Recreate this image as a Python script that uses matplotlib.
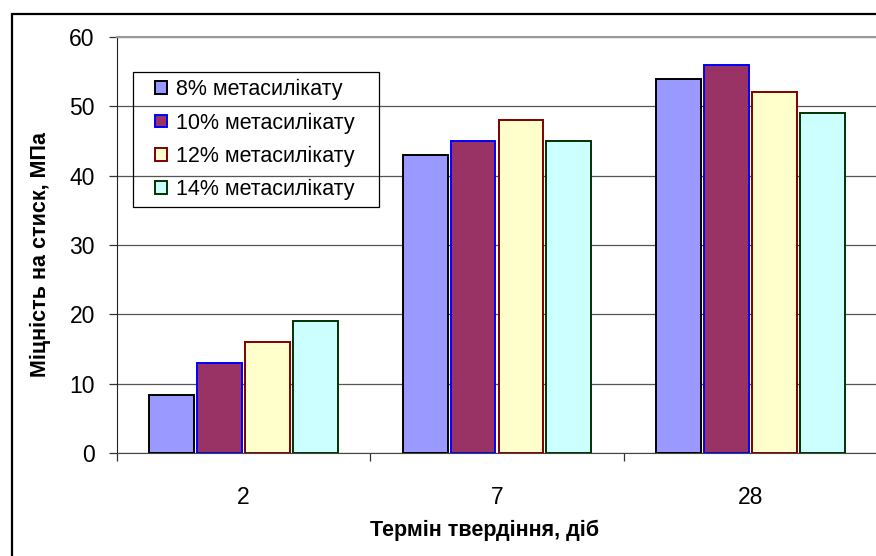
import matplotlib.pyplot as plt
import numpy as np
from matplotlib.patches import Rectangle

plt.rcParams['font.family'] = ['Liberation Sans', 'DejaVu Sans']

# strength after curing, MPa
days = ['2', '7', '28']
series = ['8% метасилікату', '10% метасилікату', '12% метасилікату', '14% метасилікату']
meta_8 = [8.4, 43, 54]
meta_10 = [13, 45, 56]
meta_12 = [16, 48, 52]
meta_14 = [19, 45, 49]

faces = ['#9999FF', '#993366', '#FFFFCC', '#CCFFFF']
edges = ['#000000', '#0000FF', '#800000', '#003300']

W, H = 876, 556
fig = plt.figure(figsize=(W / 100, H / 100), dpi=100)
ax = fig.add_axes([117 / W, 1 - 453 / H, 760 / W, 416 / H])

x = np.arange(len(days))
step = 0.189
width = 0.177
for i, vals in enumerate([meta_8, meta_10, meta_12, meta_14]):
    ax.bar(x + (i - 1.5) * step, vals, width=width, color=faces[i], edgecolor=edges[i],
           linewidth=1.4, zorder=3, label=series[i])

ax.set_xlim(-0.5, 2.5)
ax.set_ylim(0, 60)
ax.set_yticks(np.arange(0, 61, 10))
ax.yaxis.grid(True, color='#555555', lw=0.9, zorder=0)
ax.set_axisbelow(True)

# category boundaries carry the tick marks, names sit in between
ax.set_xticks([-0.5, 0.5, 1.5, 2.5])
ax.set_xticklabels([])
ax.set_xticks(x, minor=True)
ax.set_xticklabels(days, minor=True)
ax.tick_params(axis='x', which='major', direction='out', length=6, width=0.9, color='#333333')
ax.tick_params(axis='x', which='minor', length=0, pad=24, labelsize=16.5)
ax.tick_params(axis='y', direction='out', length=6, width=0.9, color='#333333', pad=10, labelsize=16.5)

ax.spines['right'].set_visible(False)
ax.spines['top'].set_color('#999999')
ax.spines['top'].set_linewidth(1.5)
ax.spines['left'].set_color('#222222')
ax.spines['bottom'].set_color('#444444')

ax.set_ylabel('Міцність на стиск, МПа', fontsize=15.5, fontweight='bold')
ax.yaxis.set_label_coords(-0.087, 0.478)
ax.set_xlabel('Термін твердіння, діб', fontsize=15.5, fontweight='bold')
ax.xaxis.set_label_coords(0.483, -0.16)

leg = ax.legend(loc='upper left', bbox_to_anchor=(151 / W, 1 - 75 / H), bbox_transform=fig.transFigure,
                frameon=False, fontsize=15.5, handlelength=0.55, handleheight=0.55,
                handletextpad=0.4, labelspacing=0.56, borderaxespad=0, borderpad=0.2)
for h in leg.legend_handles:
    h.set_linewidth(1.4)
fig.add_artist(Rectangle((133 / W, 1 - 207 / H), 246 / W, 135 / H, transform=fig.transFigure,
                         facecolor='none', edgecolor='black', lw=0.9, zorder=5))

# outer chart frame
fig.add_artist(Rectangle((11.5 / W, -0.1), 1.2, 1.1 - 13.5 / H, transform=fig.transFigure,
                         facecolor='none', edgecolor='black', lw=1.6))

fig.savefig('out.png', dpi=100)
